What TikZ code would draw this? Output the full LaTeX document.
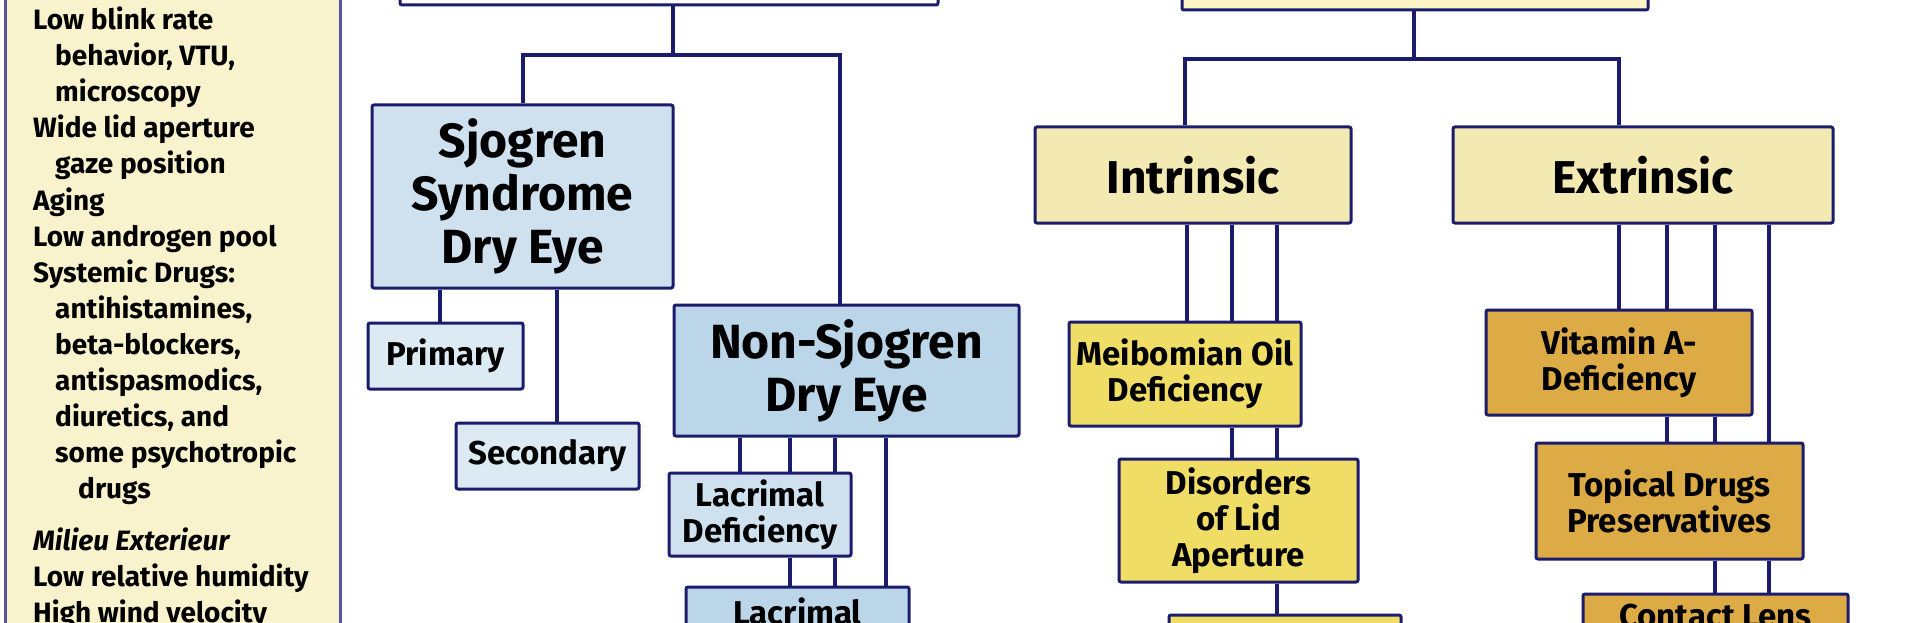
\documentclass[tikz,border=0pt]{standalone}
\usepackage{fontspec}
\setmainfont{Fira Sans}
\definecolor{navy}{HTML}{1C1C6C}
\definecolor{legendline}{HTML}{55559B}
\definecolor{legendfill}{HTML}{F8F3CC}
\definecolor{paleblue}{HTML}{DCEAF4}
\definecolor{midblue}{HTML}{CFE1EE}
\definecolor{deepblue}{HTML}{BCD6E9}
\definecolor{paleyellow}{HTML}{F3E9B3}
\definecolor{lightyellow}{HTML}{FBF5C6}
\definecolor{brightyellow}{HTML}{F0DD66}
\definecolor{gold}{HTML}{DCAB45}

\begin{document}
\begin{tikzpicture}[
x=1pt, y=-1pt,
box/.style={draw=navy, line width=3pt, rounded corners=2pt, inner sep=0pt, align=center,
  font=\bfseries\fontsize{33}{36}\selectfont},
bigbox/.style={box, font=\bfseries\fontsize{48}{53}\selectfont},
hugebox/.style={box, font=\bfseries\fontsize{46}{50}\selectfont},
link/.style={draw=navy, line width=4pt},
legendtext/.style={anchor=base west, inner sep=0pt, font=\bfseries\fontsize{28}{36}\selectfont}
]
\useasboundingbox (0,0) rectangle (1920,623);
\clip (0,0) rectangle (1920,623);
\fill[white] (0,0) rectangle (1920,623);

% legend column
\node[draw=legendline, fill=legendfill, line width=3pt, minimum width=335pt, minimum height=650pt] (lgd) at (172.5,315) {};
\foreach \y/\x/\t [count=\i] in {30/33/{Low blink rate}, 66/55/{behavior, VTU,}, 102/55/{microscopy},
  138/33/{Wide lid aperture}, 174/55/{gaze position}, 210/33/{Aging}, 246/33/{Low androgen pool},
  282/33/{Systemic Drugs:}, 318/55/{antihistamines,}, 354/55/{beta-blockers,}, 390/55/{antispasmodics,},
  426/55/{diuretics, and}, 462/55/{some psychotropic}, 498/78/{drugs},
  550/33/{\itshape Milieu Exterieur}, 586/33/{Low relative humidity}, 622/33/{High wind velocity}}
  \node[legendtext] (l\i) at (\x,\y) {\t};

% top row (cut off)
\node[box, fill=white, minimum width=538pt, minimum height=80pt] (aqd) at (669,-35) {};
\node[box, fill=lightyellow, minimum width=466pt, minimum height=80pt] (eva) at (1415,-30) {};

% aqueous branch
\node[bigbox, fill=midblue, minimum width=301pt, minimum height=183pt] (sjo) at (522.5,196.5) {Sjogren\\Syndrome\\Dry Eye};
\node[bigbox, fill=deepblue, minimum width=345pt, minimum height=131pt] (nsj) at (846.5,370.5) {Non-Sjogren\\Dry Eye};
\node[box, fill=paleblue, minimum width=155pt, minimum height=66pt] (pri) at (445.5,356) {Primary};
\node[box, fill=paleblue, minimum width=183pt, minimum height=66pt] (sec) at (547.5,456) {Secondary};
\node[box, fill=midblue, minimum width=182pt, minimum height=83pt] (lcd) at (760,514.5) {Lacrimal\\Deficiency};
\node[box, fill=deepblue, minimum width=223pt, minimum height=48pt] (lcx) at (797.5,611) {Lacrimal};

% evaporative branch
\node[hugebox, fill=paleyellow, minimum width=316pt, minimum height=96pt] (int) at (1193,175) {Intrinsic};
\node[hugebox, fill=paleyellow, minimum width=380pt, minimum height=96pt] (ext) at (1643,175) {Extrinsic};
\node[box, fill=brightyellow, minimum width=232pt, minimum height=104pt] (mei) at (1185,374) {Meibomian Oil\\Deficiency};
\node[box, fill=brightyellow, minimum width=239pt, minimum height=123pt] (dis) at (1238.5,520.5) {Disorders\\of Lid\\Aperture};
\node[box, fill=brightyellow, minimum width=232pt, minimum height=40pt] (bti) at (1285,635) {};
\node[box, fill=gold, minimum width=266pt, minimum height=105pt] (vit) at (1619,362.5) {Vitamin A-\\Deficiency};
\node[box, fill=gold, minimum width=267pt, minimum height=116pt] (top) at (1669.5,501) {Topical Drugs\\Preservatives};
\node[box, fill=gold, minimum width=265pt, minimum height=44pt] (cln) at (1715.5,616) {Contact Lens};

% connectors
\coordinate (aqj) at (673,55);
\coordinate (evj) at (1414,59);
\draw[link] (aqd.south -| aqj) -- (aqj);
\draw[link] (sjo.north -| 523,0) |- (aqj) -| (nsj.north -| 840,0);
\draw[link] (eva.south -| evj) -- (evj);
\draw[link] (int.north -| 1185,0) |- (evj) -| (ext.north -| 1619,0);

\draw[link] (sjo.south -| 440,0) -- (pri.north -| 440,0);
\draw[link] (sjo.south -| 557,0) -- (sec.north -| 557,0);
\foreach \x in {740,790,835}
  \draw[link] (nsj.south -| \x,0) -- (lcd.north -| \x,0);
\foreach \x in {790,835}
  \draw[link] (lcd.south -| \x,0) -- (lcx.north -| \x,0);
\draw[link] (nsj.south -| 886,0) -- (lcx.north -| 886,0);

\foreach \x in {1187,1232,1277}
  \draw[link] (int.south -| \x,0) -- (mei.north -| \x,0);
\foreach \x in {1232,1277}
  \draw[link] (mei.south -| \x,0) -- (dis.north -| \x,0);
\draw[link] (dis.south -| 1277,0) -- (bti.north -| 1277,0);

\foreach \x in {1619,1667,1715}
  \draw[link] (ext.south -| \x,0) -- (vit.north -| \x,0);
\draw[link] (ext.south -| 1769,0) -- (top.north -| 1769,0);
\foreach \x in {1667,1715}
  \draw[link] (vit.south -| \x,0) -- (top.north -| \x,0);
\foreach \x in {1715,1769}
  \draw[link] (top.south -| \x,0) -- (cln.north -| \x,0);
\end{tikzpicture}
\end{document}
